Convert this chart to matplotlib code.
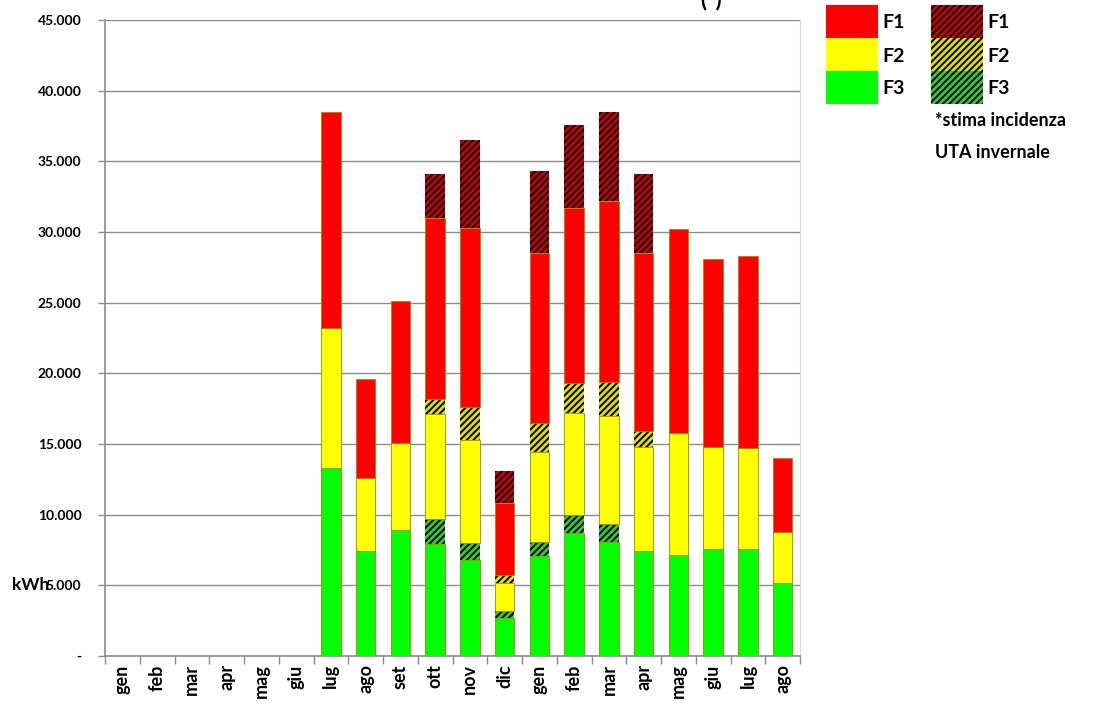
import matplotlib
matplotlib.use("Agg")
import matplotlib.pyplot as plt
from matplotlib.patches import Rectangle
from matplotlib.ticker import FuncFormatter, FixedLocator
import numpy as np

plt.rcParams['font.family'] = ['Lato', 'DejaVu Sans']
plt.rcParams['hatch.linewidth'] = 1.4

mesi = ['gen', 'feb', 'mar', 'apr', 'mag', 'giu', 'lug', 'ago', 'set', 'ott',
        'nov', 'dic', 'gen', 'feb', 'mar', 'apr', 'mag', 'giu', 'lug', 'ago']

# altezze dei segmenti (kWh), dal basso verso l'alto
f3 = [0, 0, 0, 0, 0, 0, 13300, 7400, 8900, 7900, 6800, 2700, 7050, 8700, 8100, 7400, 7150, 7600, 7600, 5200]
f3_uta = [0, 0, 0, 0, 0, 0, 0, 0, 0, 1800, 1200, 500, 1000, 1300, 1250, 0, 0, 0, 0, 0]
f2 = [0, 0, 0, 0, 0, 0, 9900, 5200, 6200, 7400, 7300, 2000, 6350, 7200, 7650, 7400, 8650, 7200, 7100, 3600]
f2_uta = [0, 0, 0, 0, 0, 0, 0, 0, 0, 1100, 2300, 500, 2100, 2100, 2400, 1100, 0, 0, 0, 0]
f1 = [0, 0, 0, 0, 0, 0, 15300, 7000, 10000, 12800, 12700, 5100, 12000, 12400, 12800, 12600, 14400, 13300, 13600, 5200]
f1_uta = [0, 0, 0, 0, 0, 0, 0, 0, 0, 3100, 6200, 2300, 5800, 5900, 6300, 5600, 0, 0, 0, 0]

serie = [
    (f3, '#00FF00', None),
    (f3_uta, '#33CC33', '/////'),
    (f2, '#FFFF00', None),
    (f2_uta, '#E0E000', '/////'),
    (f1, '#FF0000', None),
    (f1_uta, '#CC0000', '/////'),
]

fig = plt.figure(figsize=(11.03, 7.04), dpi=100)
ax = fig.add_axes([105 / 1103, 1 - 656 / 704, 695 / 1103, 636 / 704])

x = np.arange(len(mesi))
base = np.zeros(len(mesi))
for valori, colore, tratteggio in serie:
    v = np.array(valori, dtype=float)
    if tratteggio:
        ax.bar(x, v, width=0.56, bottom=base, color=colore, hatch=tratteggio,
               edgecolor='black', linewidth=0, zorder=3)
    else:
        ax.bar(x, v, width=0.56, bottom=base, color=colore,
               edgecolor='#9a8a00', linewidth=0.6, zorder=3)
    base += v

ax.set_xlim(-0.5, len(mesi) - 0.5)
ax.set_ylim(0, 45000)
ax.set_yticks(np.arange(0, 45001, 5000))
ax.yaxis.set_major_formatter(FuncFormatter(
    lambda v, p: '-' if v == 0 else f'{int(v):,}'.replace(',', '.')))
ax.grid(axis='y', color='#8c8c8c', linewidth=1, zorder=0)
ax.set_axisbelow(True)

ax.set_xticks(x)
ax.set_xticklabels(mesi, rotation=90, fontsize=13, fontweight='bold')
ax.xaxis.set_minor_locator(FixedLocator(np.arange(-0.5, len(mesi), 1)))
ax.tick_params(axis='x', which='major', length=0, pad=6)
ax.tick_params(axis='x', which='minor', length=6, color='#8c8c8c', width=1)
ax.tick_params(axis='y', length=5, color='#8c8c8c', width=1, labelsize=10, pad=12)
for lbl in ax.get_yticklabels():
    lbl.set_fontweight('bold')

for s in ['left', 'bottom']:
    ax.spines[s].set_color('#8c8c8c')
    ax.spines[s].set_linewidth(1.2)
ax.spines['top'].set_visible(False)
ax.spines['right'].set_color('#d8d8d8')

fig.text(12 / 1103, 1 - 585 / 704, 'kWh', fontsize=12.5, fontweight='bold', va='center', ha='left')
fig.text(711 / 1103, 1.0, '(*)', fontsize=16, fontweight='bold', va='center', ha='center')

# legenda manuale
etichette = ['F1', 'F2', 'F3']
colori_pieni = ['#FF0000', '#FFFF00', '#00FF00']
colori_tratt = ['#CC0000', '#E0E000', '#33CC33']
for i in range(3):
    y0 = 1 - (5 + 33 * (i + 1)) / 704
    fig.patches.append(Rectangle((826 / 1103, y0), 52 / 1103, 33 / 704, transform=fig.transFigure,
                                 facecolor=colori_pieni[i], edgecolor='none'))
    fig.patches.append(Rectangle((931 / 1103, y0), 52 / 1103, 33 / 704, transform=fig.transFigure,
                                 facecolor=colori_tratt[i], edgecolor='black', hatch='/////', linewidth=0))
    fig.text(882 / 1103, y0 + 15 / 704, etichette[i], fontsize=14, fontweight='bold', va='center')
    fig.text(987 / 1103, y0 + 15 / 704, etichette[i], fontsize=14, fontweight='bold', va='center')

fig.text(935 / 1103, 1 - 120 / 704, '*stima incidenza', fontsize=13, fontweight='bold', va='center')
fig.text(935 / 1103, 1 - 153 / 704, 'UTA invernale', fontsize=13, fontweight='bold', va='center')

fig.savefig('out.png', dpi=100)
